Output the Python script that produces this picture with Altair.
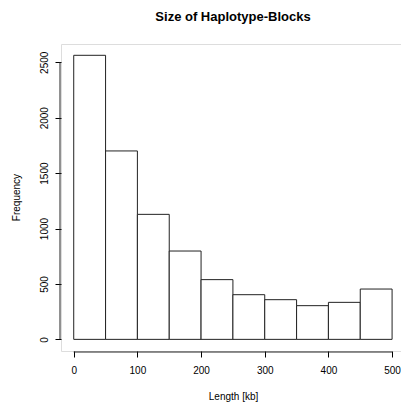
import altair as alt
import pandas as pd

# Data
bin_starts = [0, 50, 100, 150, 200, 250, 300, 350, 400, 450]
bin_ends = [50, 100, 150, 200, 250, 300, 350, 400, 450, 500]
counts = [2563, 1700, 1128, 797, 539, 403, 358, 304, 334, 454]
x_ticks = [0, 100, 200, 300, 400, 500]
y_ticks = [0, 500, 1000, 1500, 2000, 2500]

title_text = "Size of Haplotype-Blocks"
x_title = "Length [kb]"
y_title = "Frequency"

FONT = "Liberation Sans"
W, H = 340, 307

bars_df = pd.DataFrame({"start": bin_starts, "end": bin_ends, "count": counts})
xline_df = pd.DataFrame({"a": [min(x_ticks)], "b": [max(x_ticks)]})
yline_df = pd.DataFrame({"a": [min(y_ticks)], "b": [max(y_ticks)]})

xscale = alt.Scale(domain=[-20, 514], nice=False, zero=False)
yscale = alt.Scale(domain=[-105, 2665], nice=False, zero=False)

xaxis = alt.Axis(
    values=x_ticks, format="d", grid=False, domain=False, tickSize=6, tickColor="#000",
    labelFont=FONT, labelFontSize=10, labelColor="#000", labelPadding=8,
    labelFlush=False, labelOverlap=False,
    title=x_title, titleFont=FONT, titleFontSize=10, titleFontWeight="normal",
    titleColor="#000", titleX=172, titleY=45, titleBaseline="middle",
    titleAlign="center",
)
yaxis = alt.Axis(
    values=y_ticks, format="d", grid=False, domain=False, tickSize=6, tickColor="#000",
    labelFont=FONT, labelFontSize=10, labelColor="#000", labelPadding=6,
    labelAngle=270, labelAlign="center", labelBaseline="bottom",
    labelFlush=False, labelOverlap=False,
    title=y_title, titleFont=FONT, titleFontSize=10, titleFontWeight="normal",
    titleColor="#000", titleAngle=270, titleX=-45, titleY=153,
    titleBaseline="middle", titleAlign="center",
)

bars = alt.Chart(bars_df).mark_rect(
    fill="white", stroke="#222", strokeWidth=1
).encode(
    x=alt.X("start:Q", scale=xscale, axis=xaxis),
    x2="end:Q",
    y=alt.Y("count:Q", scale=yscale, axis=yaxis),
    y2=alt.datum(0),
)

xline = alt.Chart(xline_df).mark_rule(color="#222", strokeWidth=1).encode(
    x=alt.X("a:Q", scale=xscale),
    x2="b:Q",
    y=alt.value(H + 1),
)
yline = alt.Chart(yline_df).mark_rule(color="#222", strokeWidth=1).encode(
    y=alt.Y("a:Q", scale=yscale),
    y2="b:Q",
    x=alt.value(-1),
)

chart = alt.layer(bars, xline, yline).properties(
    width=W,
    height=H,
    title=alt.TitleParams(
        text=title_text, font=FONT, fontSize=13, fontWeight="bold",
        color="#000", anchor="middle", offset=20, dx=2,
    ),
    autosize=alt.AutoSizeParams(type="none"),
    padding={"left": 61, "top": 44, "right": 0, "bottom": 52},
).configure_view(stroke=None).configure(background="white")

chart.save("out.html", embed_options={"renderer": "svg", "actions": False})
